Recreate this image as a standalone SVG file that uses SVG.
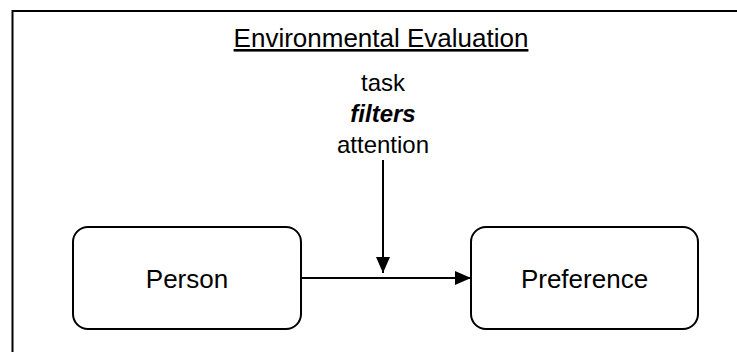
<svg xmlns="http://www.w3.org/2000/svg" width="737" height="352" viewBox="0 0 737 352">
<style>
text { font-family: "Liberation Sans", Arial, sans-serif; fill: #000; }
.box { fill: #fff; stroke: #000; stroke-width: 2; }
.edge { stroke: #000; stroke-width: 2; fill: none; }
.lbl { font-size: 26px; text-anchor: middle; }
.mid { font-size: 24px; text-anchor: middle; }
</style>
<defs>
<marker id="arr" markerWidth="16" markerHeight="14" refX="16" refY="7" orient="auto" markerUnits="userSpaceOnUse">
<path d="M0,0 L16,7 L0,14 Z" fill="#000"/>
</marker>
</defs>
<rect width="737" height="352" fill="#fff"/>
<rect x="12.5" y="11" width="740" height="360" fill="none" stroke="#000" stroke-width="2"/>
<g id="title">
<text class="lbl" x="381" y="47" text-decoration="underline">Environmental Evaluation</text>
</g>
<g id="filter">
<text class="mid" x="383" y="91">task</text>
<text class="mid" x="383" y="122" font-weight="bold" font-style="italic">filters</text>
<text class="mid" x="383" y="153">attention</text>
</g>
<g id="person">
<rect class="box" x="73" y="227" width="228" height="102" rx="15"/>
<text class="lbl" x="187" y="288">Person</text>
</g>
<g id="preference">
<rect class="box" x="471" y="227" width="227" height="102" rx="15"/>
<text class="lbl" x="584.5" y="288">Preference</text>
</g>
<g id="connectors">
<line class="edge" x1="301" y1="278" x2="471" y2="278" marker-end="url(#arr)"/>
<line class="edge" x1="383" y1="160" x2="383" y2="273" marker-end="url(#arr)"/>
</g>
</svg>
